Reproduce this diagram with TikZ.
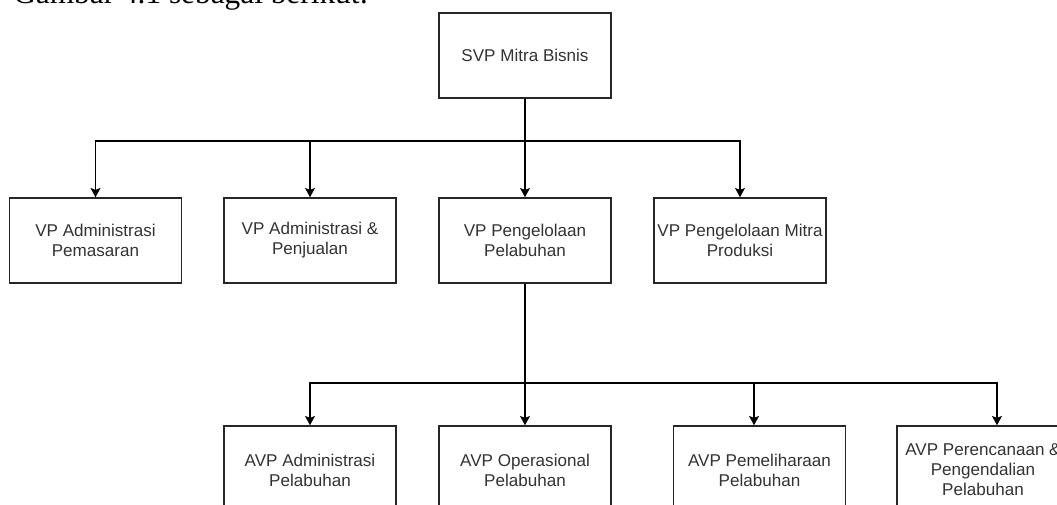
\documentclass[tikz,border=0pt]{standalone}
\usepackage{fontspec}
\setmainfont{Liberation Serif}
\newfontfamily\boxfont{Liberation Sans}
\usetikzlibrary{arrows.meta}

\tikzset{
  unit/.style={draw=black!85, line width=1.1pt, fill=white,
    minimum width=129pt, minimum height=63.75pt, inner sep=0pt,
    align=center, text=black!80, font=\boxfont\fontsize{12.8}{15}\selectfont},
  link/.style={draw=black, line width=0.9pt,
    -{Stealth[length=7pt,width=7.5pt,inset=1.5pt]}}
}

\begin{document}
\begin{tikzpicture}[x=0.75pt, y=-0.75pt]
    \useasboundingbox (0,0) rectangle (1057,505);
    \clip (0,0) rectangle (1057,505);

    % line of the page above the chart
    \node[anchor=base west, inner sep=0pt, font=\fontsize{23.5}{28}\selectfont] (caption) at (13,4) {Gambar 4.1 sebagai berikut:};

    \node[unit] (svp) at (525,55.5) {SVP Mitra Bisnis};

    \node[unit] (vpa) at (95.5,240.5) {VP Administrasi\\Pemasaran};
    \node[unit] (vpb) at (310,240.5) {VP Administrasi \&\\Penjualan};
    \node[unit] (vpc) at (525,240.5) {VP Pengelolaan\\Pelabuhan};
    \node[unit] (vpd) at (740,240.5) {VP Pengelolaan Mitra\\Produksi};

    \node[unit, minimum height=66pt] (avpa) at (310,470) {AVP Administrasi\\Pelabuhan};
    \node[unit, minimum height=66pt] (avpb) at (525,470) {AVP Operasional\\Pelabuhan};
    \node[unit, minimum height=66pt] (avpc) at (759.5,470) {AVP Pemeliharaan\\Pelabuhan};
    \node[unit, minimum height=66pt] (avpd) at (983,470) {AVP Perencanaan \&\\Pengendalian\\Pelabuhan};

    % SVP -> VP row
    \coordinate (busvp) at (525,141);
    \foreach \n in {vpa,vpb,vpc,vpd}
      \draw[link] (svp.south) -- (busvp) -| (\n.north);

    % VP Pengelolaan Pelabuhan -> AVP row
    \coordinate (busavp) at (525,383);
    \draw[link] (vpc.south) -- (busavp) -| (avpa.north);
    \draw[link] (vpc.south) -- (busavp) -| (avpb.north);
    \draw[link] (vpc.south) -- (busavp) -| ([xshift=-4.1pt]avpc.north);
    \draw[link] (vpc.south) -- (busavp) -| ([xshift=10.5pt]avpd.north);
\end{tikzpicture}
\end{document}
